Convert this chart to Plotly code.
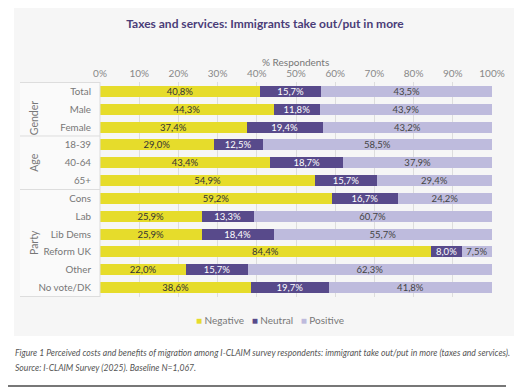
import plotly.graph_objects as go

categories = ["Total", "Male", "Female", "18-39", "40-64", "65+", "Cons", "Lab",
              "Lib Dems", "Reform UK", "Other", "No vote/DK"]
negative = [40.8, 44.3, 37.4, 29.0, 43.4, 54.9, 59.2, 25.9, 25.9, 84.4, 22.0, 38.6]
neutral = [15.7, 11.8, 19.4, 12.5, 18.7, 15.7, 16.7, 13.3, 18.4, 8.0, 15.7, 19.7]
positive = [43.5, 43.9, 43.2, 58.5, 37.9, 29.4, 24.2, 60.7, 55.7, 7.5, 62.3, 41.8]
groups = [("Gender", 1.5), ("Age", 4), ("Party", 8.5)]
x_ticks = [0, 10, 20, 30, 40, 50, 60, 70, 80, 90, 100]
x_tick_labels = [f"{t}%" for t in x_ticks]

def fmt(v):
    return f"{v:.1f}%".replace(".", ",")

FONT = "Lato"
OFF = 8  # page body margin offset
W, H = 530, 389
L, T = 100 - OFF, 82 - OFF
PW, PH = 392, 215
R, B = W - L - PW, H - T - PH

def px_x(px):
    return (px - OFF - L) / PW

def px_y(py):
    return (T + PH - (py - OFF)) / PH

series = [
    ("Negative", negative, "#e6dc2b", "#333333"),
    ("Neutral", neutral, "#584a8b", "#ffffff"),
    ("Positive", positive, "#bebbdd", "#444444"),
]

fig = go.Figure()
for name, vals, col, tcol in series:
    fig.add_trace(go.Bar(
        y=categories, x=vals, name=name, orientation="h",
        marker=dict(color=col, line=dict(width=0)),
        text=[fmt(v) for v in vals], textposition="inside",
        insidetextanchor="middle",
        textfont=dict(family=FONT, size=9.5, color=tcol),
        hoverinfo="skip", showlegend=False,
    ))

shapes = []
shapes.append(dict(type="rect", xref="paper", yref="paper", layer="below",
                   x0=px_x(14), x1=px_x(514), y0=px_y(336), y1=px_y(5),
                   fillcolor="#f6f6f6", line=dict(width=0)))
shapes.append(dict(type="rect", xref="paper", yref="paper", layer="below",
                   x0=px_x(20), x1=0, y0=0, y1=1,
                   fillcolor="#fafafa", line=dict(width=0)))
for yv in [-0.5, 2.5, 5.5, 11.5]:
    shapes.append(dict(type="line", xref="paper", yref="y",
                       x0=px_x(20), x1=0, y0=yv, y1=yv,
                       line=dict(color="#dddddd", width=1)))
shapes.append(dict(type="line", xref="paper", yref="paper", x0=0, x1=0, y0=0, y1=1,
                   line=dict(color="#dddddd", width=1)))
shapes.append(dict(type="line", xref="paper", yref="paper",
                   x0=px_x(8), x1=px_x(506), y0=px_y(386), y1=px_y(386),
                   line=dict(color="#777777", width=2)))

annotations = []
for g, yv in groups:
    annotations.append(dict(text=g, xref="paper", yref="y", x=px_x(26), y=yv,
                            textangle=-90, showarrow=False,
                            font=dict(family=FONT, size=10.5, color="#777777")))
cap_font = dict(family=FONT, size=8.65, color="#555555", style="italic")
annotations.append(dict(text="Figure 1 Perceived costs and benefits of migration among I-CLAIM survey respondents: immigrant take out/put in more (taxes and services).",
                        xref="paper", yref="paper", x=px_x(13), y=px_y(352),
                        xanchor="left", yanchor="middle", showarrow=False, font=cap_font))
annotations.append(dict(text="Source: I-CLAIM Survey (2025). Baseline N=1,067.",
                        xref="paper", yref="paper", x=px_x(13), y=px_y(367),
                        xanchor="left", yanchor="middle", showarrow=False, font=cap_font))
annotations.append(dict(text="% Respondents", xref="paper", yref="paper",
                        x=px_x(295), y=px_y(54), showarrow=False,
                        font=dict(family=FONT, size=10, color="#777777")))
legend_text = "&nbsp;&nbsp;&nbsp;".join(
    f"<span style='color:{col}'>■</span> {name}" for name, _, col, _ in series)
annotations.append(dict(text=legend_text, xref="paper", yref="paper",
                        x=px_x(270), y=px_y(320), xanchor="center", yanchor="middle",
                        showarrow=False, font=dict(family=FONT, size=10, color="#777777")))

fig.update_layout(
    width=W, height=H,
    margin=dict(l=L, r=R, t=T, b=B, autoexpand=False),
    barmode="stack", bargap=0.38,
    paper_bgcolor="#ffffff", plot_bgcolor="rgba(0,0,0,0)",
    showlegend=False,
    title=dict(text="<b>Taxes and services: Immigrants take out/put in more</b>",
               x=(265 - OFF) / W, xanchor="center", y=1 - (24 - OFF) / H, yanchor="middle",
               font=dict(family=FONT, size=12, color="#4a3d78")),
    xaxis=dict(range=[0, 100], side="top", tickvals=x_ticks, ticktext=x_tick_labels,
               showgrid=True, gridcolor="#dddddd", gridwidth=1, zeroline=False,
               tickfont=dict(family=FONT, size=10, color="#888888"),
               ticks="", ticklabelstandoff=2, automargin=False),
    yaxis=dict(autorange="reversed", showgrid=False, ticks="", automargin=False,
               tickfont=dict(family=FONT, size=9.8, color="#777777"),
               ticklabelstandoff=8),
    shapes=shapes, annotations=annotations,
    uniformtext=dict(minsize=7, mode="show"),
)

fig.write_html("out.html")
